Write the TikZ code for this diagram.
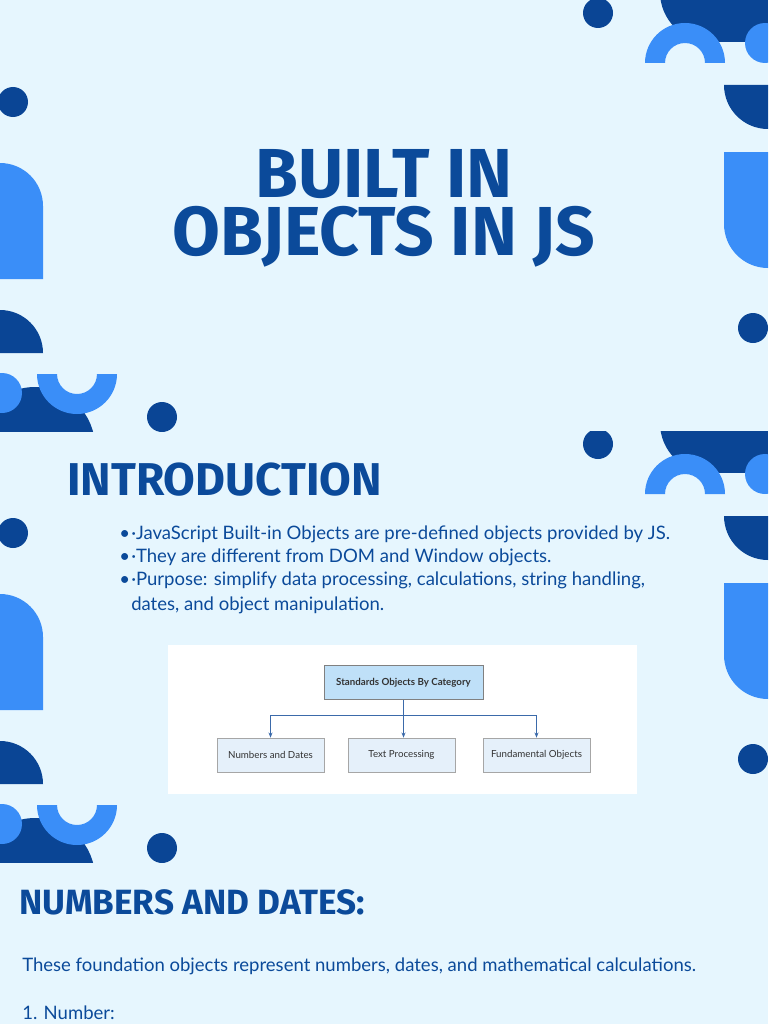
\documentclass[tikz,border=0pt]{standalone}
\usetikzlibrary{arrows.meta}
\usepackage{fontspec}
\setmainfont{Lato}
\newfontfamily\titlefont{Fira Sans}[UprightFont={* Bold}]
\definecolor{bg}{HTML}{E6F6FE}
\definecolor{dk}{HTML}{0A4595}
\definecolor{lt}{HTML}{3A8EF8}
\definecolor{txt}{HTML}{0B4A9A}
\definecolor{topbox}{HTML}{BFE0F8}
\definecolor{subbox}{HTML}{E5F0FA}
\tikzset{
  title/.style={text=txt,font=\titlefont\fontsize{52}{52}\selectfont,inner sep=0pt,text height=36pt,text depth=0pt},
  head/.style={text=txt,anchor=west,inner sep=0pt},
  body/.style={text=txt,anchor=west,inner sep=0pt,font=\fontsize{13.9}{14}\selectfont},
  cat/.style={draw=black!35,fill=subbox,minimum width=80.25pt,minimum height=25.5pt,inner sep=0pt,font=\fontsize{7.3}{8}\selectfont,text=black!80},
  arr/.style={draw=dk!80,-{Stealth[length=4pt,width=3pt]},line width=0.6pt}
}
\newcommand{\bul}{\makebox[9pt][l]{•}}
\newcommand{\deco}{%
  % right side
  \begin{scope}
   \clip (560,0) rectangle (768,42);
   \fill[dk] (710,-8) circle (50);
   \fill[dk] (710,0) rectangle (768,42);
  \end{scope}
  \begin{scope}
   \clip (560,0) rectangle (768,431);
   \fill[dk] (598,13) circle (15);
   \fill[lt] (645,63) arc[start angle=180,end angle=360,radius=40] -- (705,63) arc[start angle=360,end angle=180,radius=20] -- cycle;
   \fill[lt] (765,43) circle (20);
   \fill[dk] (724,85) arc[start angle=180,end angle=90,radius=44] -- (768,85) -- cycle;
   \fill[lt] (724,152) -- (724,224) arc[start angle=180,end angle=90,radius=44] -- (768,152) -- cycle;
   \fill[dk] (753,328) circle (15);
  \end{scope}
  % left side
  \begin{scope}
   \clip (0,80) rectangle (200,431);
   \fill[dk] (13,102) circle (15);
   \fill[lt] (0,163) arc[start angle=-90,end angle=0,radius=43] -- (43,279) -- (0,279) -- cycle;
   \fill[dk] (0,310) arc[start angle=-90,end angle=0,radius=43] -- (0,353) -- cycle;
   \fill[dk] (35,447) circle (60);
   \fill[lt] (2,393) circle (20);
   \fill[lt] (37,374) arc[start angle=180,end angle=0,radius=40] -- (97,374) arc[start angle=0,end angle=180,radius=20] -- cycle;
   \fill[dk] (162,417) circle (15);
  \end{scope}
}
\begin{document}
\begin{tikzpicture}[x=0.75pt,y=-0.75pt]
\fill[bg] (0,0) rectangle (768,1024);
\useasboundingbox (0,0) rectangle (768,1024);
\deco
\begin{scope}[yshift=-431*0.75pt]
\deco
\end{scope}
\node[title,anchor=base] (t1) at (384,197) {BUILT IN};
\node[title,anchor=base] (t2) at (384,255) {OBJECTS IN JS};
\node[head,font=\titlefont\fontsize{34.5}{34}\selectfont] (intro) at (67,480) {INTRODUCTION};
\node[body] (b1) at (119,534) {\bul·JavaScript Built-in Objects are pre-defined objects provided by JS.};
\node[body] (b2) at (119,557) {\bul·They are different from DOM and Window objects.};
\node[body] (b3) at (119,580) {\bul·Purpose: simplify data processing, calculations, string handling,};
\node[body] (b4) at (131,605) {dates, and object manipulation.};
\fill[white] (168,645) rectangle (637,794);
\node[cat,fill=topbox,draw=black!50,minimum width=119pt,font=\bfseries\fontsize{7.3}{8}\selectfont] (top) at (403.5,682.5) {Standards Objects By Category};
\node[cat] (n1) at (270.5,755) {Numbers and Dates};
\node[cat] (n2) at (401.5,755) {Text Processing};
\node[cat] (n3) at (536.5,755) {Fundamental Objects};
\coordinate (j) at (403.5,715);
\draw[dk!80,line width=0.6pt] (top.south) -- (j);
\draw[arr] (j) -- (top.south |- n2.north);
\draw[arr] (j) -| (n1.north);
\draw[arr] (j) -| (n3.north);
\node[head,font=\titlefont\fontsize{26.3}{26}\selectfont] (nd) at (19,902) {NUMBERS AND DATES:};
\node[body] (p1) at (22,966) {These foundation objects represent numbers, dates, and mathematical calculations.};
\node[body] (p2) at (22,1013) {1. Number:};
\end{tikzpicture}
\end{document}
